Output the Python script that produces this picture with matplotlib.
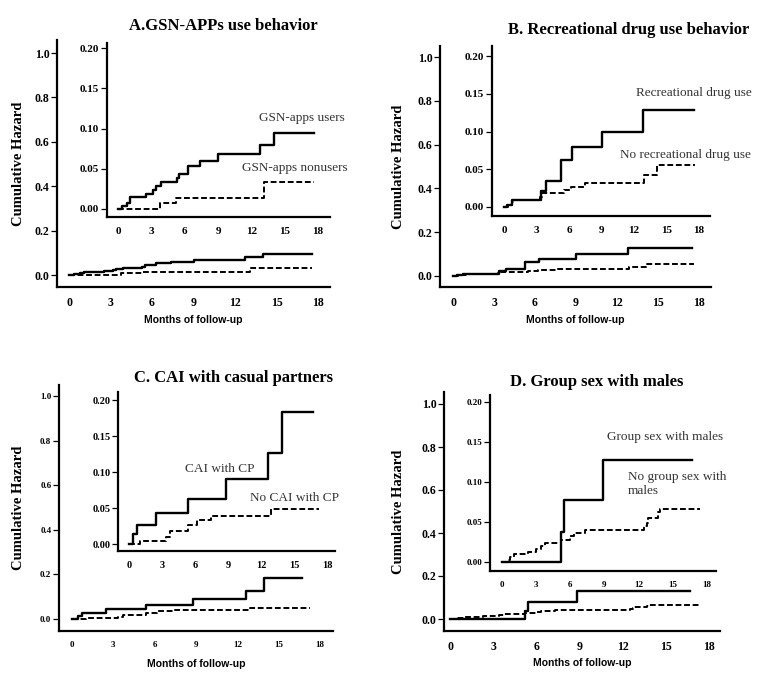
import numpy as np
import matplotlib.pyplot as plt

W, H = 762, 686

# ---- data ----
a_users_t = [0, 0.36, 0.8, 1.1, 2.5, 3.15, 3.4, 3.9, 5.3, 5.5, 6.3, 7.4, 9.0, 12.75, 14.0, 17.6]
a_users_h = [0, 0.004, 0.008, 0.015, 0.019, 0.024, 0.028, 0.033, 0.038, 0.043, 0.054, 0.060, 0.068, 0.079, 0.094, 0.094]
a_non_t = [0, 3.75, 5.25, 13.1, 17.6]
a_non_h = [0, 0.007, 0.014, 0.033, 0.033]

b_drug_t = [0, 0.3, 0.7, 3.4, 3.9, 5.3, 6.3, 9.0, 12.8, 17.5]
b_drug_h = [0, 0.003, 0.009, 0.021, 0.034, 0.062, 0.079, 0.100, 0.128, 0.128]
b_non_t = [0, 0.4, 0.7, 1.0, 3.3, 3.5, 5.5, 6.2, 7.5, 12.9, 14.1, 17.6]
b_non_h = [0, 0.003, 0.006, 0.009, 0.013, 0.018, 0.023, 0.027, 0.032, 0.042, 0.055, 0.055]

c_cai_t = [0, 0.4, 0.75, 2.45, 5.4, 8.8, 12.6, 13.9, 16.7]
c_cai_h = [0, 0.014, 0.027, 0.0435, 0.0625, 0.090, 0.126, 0.183, 0.183]
c_non_t = [0, 1.0, 3.36, 3.7, 5.4, 6.15, 7.45, 12.9, 17.3]
c_non_h = [0, 0.0046, 0.010, 0.0185, 0.026, 0.034, 0.039, 0.0486, 0.0486]

d_grp_t = [0, 5.2, 5.45, 8.85, 16.7]
d_grp_h = [0, 0.0375, 0.078, 0.128, 0.128]
d_non_t = [0, 0.4, 0.7, 1.05, 2.3, 3.0, 3.4, 3.75, 5.2, 6.0, 6.3, 7.3, 12.5, 12.7, 12.8, 13.7, 13.85, 17.35]
d_non_h = [0, 0.003, 0.006, 0.0104, 0.0125, 0.016, 0.020, 0.024, 0.028, 0.033, 0.036, 0.0396, 0.045, 0.049, 0.055, 0.062, 0.066, 0.066]

x_ticks = [0, 3, 6, 9, 12, 15, 18]
main_yticks = [0.0, 0.2, 0.4, 0.6, 0.8, 1.0]
inset_yticks = [0.00, 0.05, 0.10, 0.15, 0.20]

SERIF = 'Liberation Serif'
SANS = 'Liberation Sans'


def place(fig, box, x0, x18, y0, ytop, ytop_val):
    """box = (left, top, right, bottom) in pixels from top-left"""
    l, t, r, b = box
    ax = fig.add_axes([l / W, 1 - b / H, (r - l) / W, (b - t) / H])
    ax.set_facecolor('none')
    sx = (x18 - x0) / 18.0
    sy = (y0 - ytop) / ytop_val
    ax.set_xlim((l - x0) / sx, 18 + (r - x18) / sx)
    ax.set_ylim(-(b - y0) / sy, ytop_val + (ytop - t) / sy)
    for s in ['top', 'right']:
        ax.spines[s].set_visible(False)
    for s in ['left', 'bottom']:
        ax.spines[s].set_linewidth(1.6)
    ax.tick_params(axis='y', length=4, width=0.9, pad=1.5)
    ax.tick_params(axis='x', length=0, pad=7)
    ax.set_xticks(x_ticks)
    return ax


def style_ticks(ax, fs):
    for lab in ax.get_xticklabels() + ax.get_yticklabels():
        lab.set_fontfamily(SERIF)
        lab.set_fontweight('bold')
        lab.set_fontsize(fs)


def curves(ax, t1, h1, t2, h2):
    ax.step(t1, h1, where='post', color='black', lw=1.7)
    ax.step(t2, h2, where='post', color='black', lw=1.4, ls=(0, (3, 1.4)))


def panel(fig, mbox, mt, ibox, it, t1, h1, t2, h2, fs_main, fs_in, ylab_x):
    ax = place(fig, mbox, *mt, 1.0)
    ax.set_yticks(main_yticks)
    ax.set_yticklabels(['%.1f' % v for v in main_yticks])
    style_ticks(ax, fs_main)
    curves(ax, t1, h1, t2, h2)
    ax.set_ylabel('Cumulative Hazard', fontfamily=SERIF, fontweight='bold', fontsize=10.5)
    ax.set_xlabel('Months of follow-up', fontfamily=SANS, fontweight='bold', fontsize=7.5)
    l, t, r, b = mbox
    # ylabel anchor is the bottom of the rotated text, so add ~half its height
    ax.yaxis.set_label_coords((ylab_x + 7 - l) / (r - l), 0.5)
    ax.xaxis.set_label_coords(0.5, -0.115)
    ins = place(fig, ibox, *it, 0.2)
    ins.set_yticks(inset_yticks)
    ins.set_yticklabels(['%.2f' % v for v in inset_yticks])
    style_ticks(ins, fs_in)
    curves(ins, t1, h1, t2, h2)
    return ax, ins


fig = plt.figure(figsize=(W / 100, H / 100), dpi=100)
fig.patch.set_facecolor('white')

lab_kw = dict(fontfamily=SERIF, fontsize=9.5, color='#333333')
title_kw = dict(ha='center', va='center', fontfamily=SERIF, fontweight='bold', fontsize=12)

# A
panel(fig, (57, 40, 330, 287), (69, 318, 275, 53),
      (107, 43, 330, 217), (118, 318, 209, 48),
      a_users_t, a_users_h, a_non_t, a_non_h, 8.5, 8, 18)
fig.text(223 / W, 1 - 26 / H, 'A.GSN-APPs use behavior', **title_kw)
fig.text(302 / W, 1 - 118 / H, 'GSN-apps users', ha='center', va='center', **lab_kw)
fig.text(295 / W, 1 - 168 / H, 'GSN-apps nonusers', ha='center', va='center', **lab_kw)

# B
panel(fig, (440, 46, 711, 287), (453, 699, 276, 57),
      (492, 46, 710, 216), (504, 699, 207, 56),
      b_drug_t, b_drug_h, b_non_t, b_non_h, 8.5, 8, 398)
fig.text(629 / W, 1 - 30 / H, 'B. Recreational drug use behavior', **title_kw)
fig.text(694 / W, 1 - 93 / H, 'Recreational drug use', ha='center', va='center', **lab_kw)
fig.text(685 / W, 1 - 155 / H, 'No recreational drug use', ha='center', va='center', **lab_kw)

# C
panel(fig, (59, 385, 333, 631), (72, 320, 619, 396),
      (118, 392, 335, 551), (129, 327, 544, 400),
      c_cai_t, c_cai_h, c_non_t, c_non_h, 6.5, 7.5, 18)
fig.text(234 / W, 1 - 378 / H, 'C. CAI with casual partners', **title_kw)
fig.text(220 / W, 1 - 469 / H, 'CAI with CP', ha='center', va='center', **lab_kw)
fig.text(294 / W, 1 - 498 / H, 'No CAI with CP', ha='center', va='center', **lab_kw)

# D
panel(fig, (444, 392, 720, 631), (450, 709, 619, 404),
      (490, 395, 716, 571), (502, 707, 562, 402),
      d_grp_t, d_grp_h, d_non_t, d_non_h, 8.5, 6.5, 398)
fig.text(597 / W, 1 - 382 / H, 'D. Group sex with males', **title_kw)
fig.text(665 / W, 1 - 437 / H, 'Group sex with males', ha='center', va='center', **lab_kw)
fig.text(628 / W, 1 - 484 / H, 'No group sex with\nmales', ha='left', va='center',
         linespacing=1.2, **lab_kw)

fig.savefig('out.png', dpi=100)
